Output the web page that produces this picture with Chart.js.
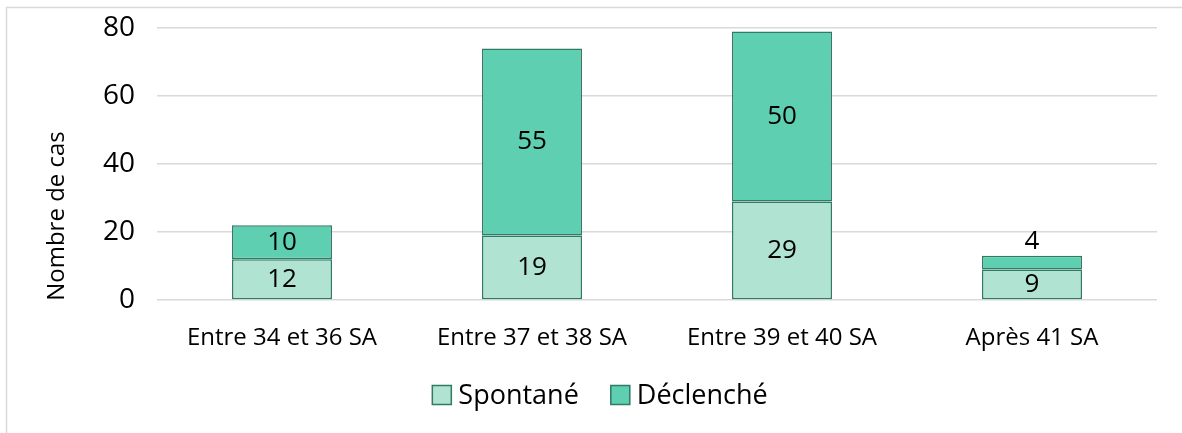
<!DOCTYPE html>
<html><head><meta charset="utf-8">
<script src="https://cdn.jsdelivr.net/npm/chart.js@4/dist/chart.umd.min.js"></script>
<style>html,body{margin:0;padding:0;background:#fff}#wrap{width:1182px;height:433px}</style>
</head><body><div id="wrap"><canvas id="c" width="1182" height="433"></canvas></div>
<script>
const categories = ["Entre 34 et 36 SA", "Entre 37 et 38 SA", "Entre 39 et 40 SA", "Après 41 SA"];
const spontane = [12, 19, 29, 9];
const declenche = [10, 55, 50, 4];
const seriesNames = ["Spontané", "Déclenché"];
const seriesColors = ["#b0e3d1", "#5ecfb1"];
const yTicks = [0, 20, 40, 60, 80];
const yTitle = "Nombre de cas";

const FONT = "'Open Sans', sans-serif";
const borderCol = "#2f7b63";

const labelPlugin = {
  id: 'segLabels',
  afterDatasetsDraw(chart) {
    const ctx = chart.ctx;
    ctx.save();
    ctx.font = "26px " + FONT;
    ctx.fillStyle = "#000";
    ctx.textAlign = "center";
    ctx.textBaseline = "middle";
    chart.data.datasets.forEach((ds, di) => {
      const meta = chart.getDatasetMeta(di);
      meta.data.forEach((bar, i) => {
        const v = ds.data[i];
        const h = Math.abs(bar.base - bar.y);
        let y = (bar.y + bar.base) / 2;
        if (h < 20) y = bar.y - 14;
        ctx.fillText(String(v), bar.x, y);
      });
    });
    ctx.restore();
  }
};
const framePlugin = {
  id: 'frame',
  afterDraw(chart) {
    const ctx = chart.ctx;
    ctx.save();
    ctx.strokeStyle = "#d9d9d9";
    ctx.lineWidth = 1.5;
    ctx.beginPath();
    ctx.moveTo(6.5, 433);
    ctx.lineTo(6.5, 7.5);
    ctx.lineTo(1182, 7.5);
    ctx.stroke();
    // y axis title
    ctx.save();
    ctx.translate(57, 216);
    ctx.rotate(-Math.PI / 2);
    ctx.font = "24px " + FONT;
    ctx.fillStyle = "#000";
    ctx.textAlign = "center";
    ctx.textBaseline = "middle";
    ctx.fillText(yTitle, 0, 0);
    ctx.restore();
    // legend
    ctx.font = "27px " + FONT;
    ctx.textBaseline = "middle";
    ctx.textAlign = "left";
    const box = 19, gapT = 7, gapI = 32, cy = 395;
    const ws = chart.data.datasets.map(d => ctx.measureText(d.label).width);
    let total = 0;
    ws.forEach((w, i) => { total += box + gapT + w + (i ? gapI : 0); });
    let x = 600 - total / 2;
    chart.data.datasets.forEach((d, i) => {
      ctx.fillStyle = d.backgroundColor;
      ctx.fillRect(x, cy - box / 2, box, box);
      ctx.strokeStyle = borderCol;
      ctx.lineWidth = 1.5;
      ctx.strokeRect(x, cy - box / 2, box, box);
      ctx.fillStyle = "#000";
      ctx.fillText(d.label, x + box + gapT, cy + 1);
      x += box + gapT + ws[i] + gapI;
    });
    ctx.restore();
  }
};

new Chart(document.getElementById('c'), {
  type: 'bar',
  data: {
    labels: categories,
    datasets: [
      { label: seriesNames[0], data: spontane, backgroundColor: seriesColors[0], borderColor: borderCol, borderWidth: 1.5, borderSkipped: false, categoryPercentage: 0.4, barPercentage: 1 },
      { label: seriesNames[1], data: declenche, backgroundColor: seriesColors[1], borderColor: borderCol, borderWidth: 1.5, borderSkipped: false, categoryPercentage: 0.4, barPercentage: 1 }
    ]
  },
  options: {
    responsive: false,
    animation: false,
    layout: { padding: { left: 0, right: 25, top: 28, bottom: 0 } },
    plugins: {
      legend: { display: false },
      tooltip: { enabled: false }
    },
    scales: {
      x: {
        stacked: true,
        grid: { display: false },
        border: { display: false },
        ticks: { font: { family: FONT, size: 24 }, color: "#000", padding: 16 },
        afterFit(s) { s.height = 133; s.paddingLeft = 0; s.paddingRight = 0; }
      },
      y: {
        stacked: true,
        min: 0, max: 80,
        afterBuildTicks(s) { s.ticks = yTicks.map(v => ({ value: v })); },
        grid: { color: "#d9d9d9", lineWidth: 1.5, drawTicks: false },
        border: { display: false },
        ticks: { font: { family: FONT, size: 28 }, color: "#000", padding: 22 },
        afterFit(s) { s.width = 157; s.paddingTop = 0; s.paddingBottom = 0; }
      }
    }
  },
  plugins: [labelPlugin, framePlugin]
});
</script></body></html>
